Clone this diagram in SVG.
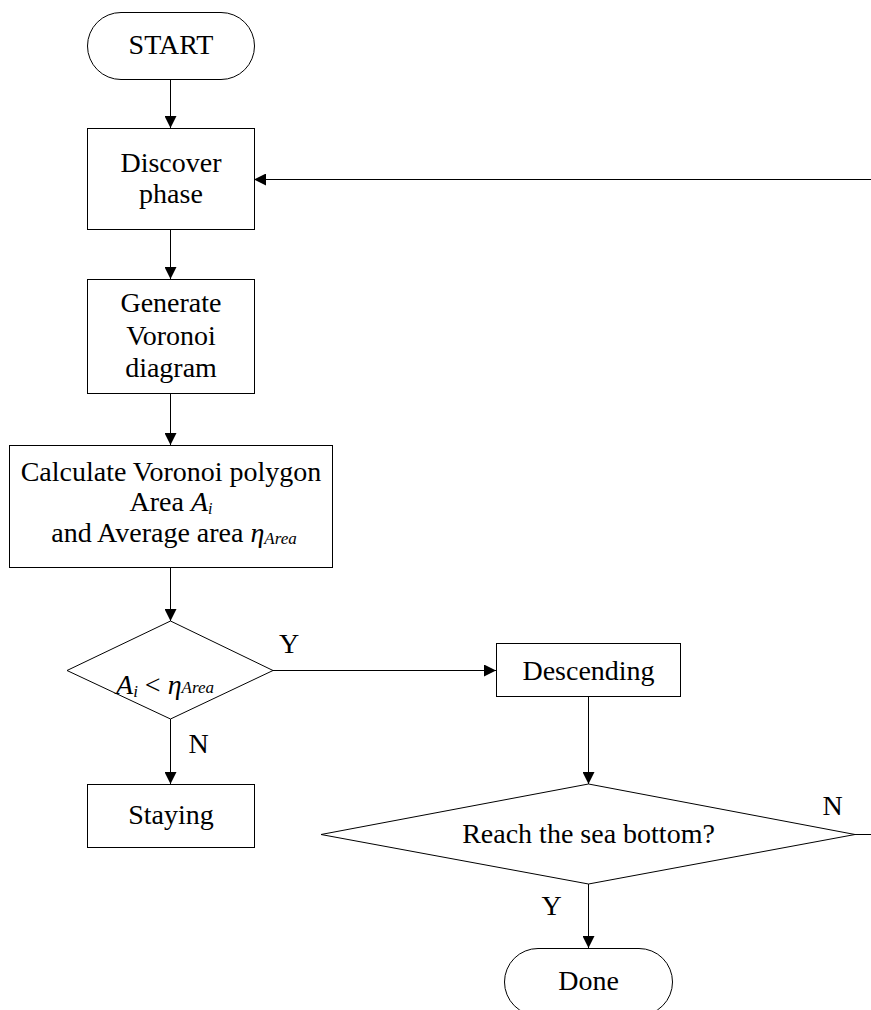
<svg xmlns="http://www.w3.org/2000/svg" width="871" height="1010" viewBox="0 0 871 1010">
<style>
.box{fill:#fff;stroke:#000;stroke-width:1}
.t{font-family:"Liberation Serif","Times New Roman",serif;font-size:28px;fill:#000;text-anchor:middle}
.i{font-style:italic}
.c{fill:none;stroke:#000;stroke-width:1}
</style>
<defs>
<marker id="arr" viewBox="0 0 12 12" refX="12" refY="6" markerWidth="12" markerHeight="12" markerUnits="userSpaceOnUse" orient="auto">
<path d="M0,0 L12,6 L0,12 z" fill="#000"/>
</marker>
</defs>
<g id="connectors">
<line class="c" x1="170.5" y1="79" x2="170.5" y2="128" marker-end="url(#arr)"/>
<line class="c" x1="170.5" y1="229" x2="170.5" y2="279" marker-end="url(#arr)"/>
<line class="c" x1="170.5" y1="393" x2="170.5" y2="445" marker-end="url(#arr)"/>
<line class="c" x1="170.5" y1="567" x2="170.5" y2="621" marker-end="url(#arr)"/>
<line class="c" x1="170.5" y1="719" x2="170.5" y2="784" marker-end="url(#arr)"/>
<line class="c" x1="273" y1="670.5" x2="496" y2="670.5" marker-end="url(#arr)"/>
<line class="c" x1="588.5" y1="696" x2="588.5" y2="784" marker-end="url(#arr)"/>
<line class="c" x1="588.5" y1="884" x2="588.5" y2="948" marker-end="url(#arr)"/>
<line class="c" x1="855" y1="834.5" x2="871" y2="834.5"/>
<line class="c" x1="871" y1="179.5" x2="254" y2="179.5" marker-end="url(#arr)"/>
<text class="t" x="289" y="653">Y</text>
<text class="t" x="198.5" y="753">N</text>
<text class="t" x="551.5" y="915">Y</text>
<text class="t" x="832.5" y="815">N</text>
</g>
<g id="start">
<rect class="box" x="87.5" y="12.5" width="167" height="67" rx="33.5" ry="33.5"/>
<text class="t" x="171" y="54">START</text>
</g>
<g id="discover">
<rect class="box" x="87.5" y="128.5" width="167" height="101"/>
<text class="t" x="171" y="172">Discover</text>
<text class="t" x="171" y="203">phase</text>
</g>
<g id="generate">
<rect class="box" x="87.5" y="279.5" width="167" height="114"/>
<text class="t" x="171" y="312">Generate</text>
<text class="t" x="171" y="345">Voronoi</text>
<text class="t" x="171" y="377">diagram</text>
</g>
<g id="calculate">
<rect class="box" x="9.5" y="445.5" width="323" height="122"/>
<text class="t" x="171" y="481">Calculate Voronoi polygon</text>
<text class="t" x="171" y="511">Area <tspan class="i">A</tspan><tspan class="i" font-size="16" dy="3">i</tspan></text>
<text class="t" x="174" y="542">and Average area <tspan class="i">η</tspan><tspan class="i" font-size="17" dy="2">Area</tspan></text>
</g>
<g id="decision1">
<polygon class="box" points="170.5,621 273,670.5 170.5,719 67,670.5"/>
<text class="t" x="165" y="694"><tspan class="i">A</tspan><tspan class="i" font-size="17" dy="3">i</tspan><tspan dy="-3"> &lt; </tspan><tspan class="i">η</tspan><tspan class="i" font-size="17" dy="-1">Area</tspan></text>
</g>
<g id="staying">
<rect class="box" x="87.5" y="784.5" width="167" height="63"/>
<text class="t" x="171" y="824">Staying</text>
</g>
<g id="descending">
<rect class="box" x="496.5" y="643.5" width="184" height="53"/>
<text class="t" x="588.5" y="680">Descending</text>
</g>
<g id="decision2">
<polygon class="box" points="588.5,784 855,834.5 588.5,884 321,834.5"/>
<text class="t" x="588.5" y="843">Reach the sea bottom?</text>
</g>
<g id="done">
<rect class="box" x="504.5" y="948.5" width="168" height="67" rx="33.5" ry="33.5"/>
<text class="t" x="588.5" y="990">Done</text>
</g>
</svg>
